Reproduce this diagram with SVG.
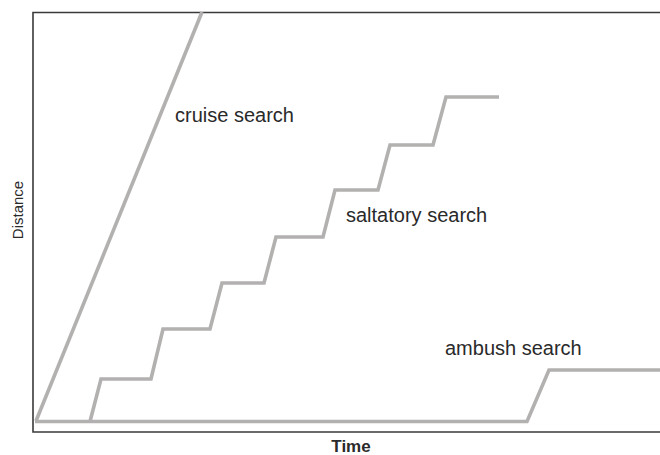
<svg xmlns="http://www.w3.org/2000/svg" width="660" height="455" viewBox="0 0 660 455">
<style>
.axis{fill:none;stroke:#3a3a3a;stroke-width:1.6}
.curve{fill:none;stroke:#b3b0b0;stroke-width:3.6;stroke-linejoin:miter}
.lbl{font-family:"Liberation Sans",Arial,sans-serif;font-size:20px;fill:#2a2a2a}
.ax{font-family:"Liberation Sans",Arial,sans-serif;fill:#2a2a2a}
</style>
<rect width="660" height="455" fill="#ffffff"/>
<g id="axes">
<polyline class="axis" points="660,12.5 33,12.5 33,432 660,432"/>
<text class="ax" x="0" y="0" font-size="15" text-anchor="middle" transform="translate(23,210) rotate(-90)">Distance</text>
<text class="ax" x="351" y="452" font-size="17" font-weight="bold" text-anchor="middle">Time</text>
</g>
<g id="connectors">
<polyline id="cruise" class="curve" points="36,421 202,12"/>
<polyline id="baseline" class="curve" points="35,421.5 527,421.5 549,370 660,370"/>
<polyline id="saltatory" class="curve" points="90,421.5 101,379 151,379 163,329 210,329 222,283 264,283 276,237 323,237 335,190 378,190 390,145 433,145 446,97 499,97"/>
</g>
<g id="cruise-label"><text class="lbl" x="175" y="122">cruise search</text></g>
<g id="saltatory-label"><text class="lbl" x="346" y="222">saltatory search</text></g>
<g id="ambush-label"><text class="lbl" x="445" y="355">ambush search</text></g>
</svg>
